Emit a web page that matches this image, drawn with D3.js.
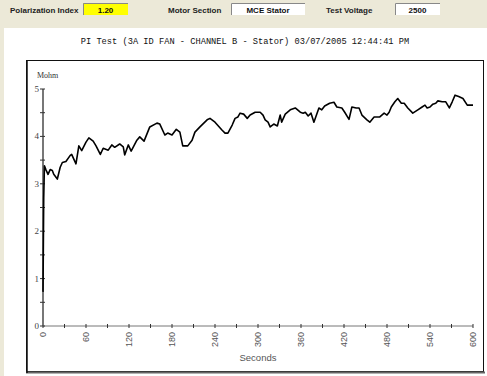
<!DOCTYPE html>
<html><head><meta charset="utf-8">
<script src="https://cdn.jsdelivr.net/npm/d3@7"></script>
<style>html,body{margin:0;padding:0;background:#ECE9D8;}svg{display:block;}</style>
</head><body>
<svg id="c" width="487" height="376"></svg>
<script>
const seconds = [0,1,2,4,7,10,13,15,20,24,27,32,38,40,46,50,54,60,64,70,74,80,84,91,96,100,107,112,114,119,123,131,135,141,149,159,163,170,174,180,186,191,195,202,208,212,219,229,233,240,250,254,258,264,268,272,275,280,285,289,296,303,307,310,314,317,322,327,331,333,338,345,352,359,363,366,370,374,378,385,389,393,400,406,410,417,421,427,431,437,441,445,452,456,462,466,470,476,480,483,486,491,495,500,504,509,516,523,529,533,536,540,544,548,551,557,562,567,571,575,580,586,592,596,600];
const mohm = [0.72,2.7,3.38,3.3,3.2,3.3,3.28,3.2,3.1,3.35,3.45,3.47,3.6,3.62,3.42,3.8,3.7,3.88,3.97,3.9,3.8,3.62,3.75,3.71,3.82,3.77,3.84,3.78,3.61,3.82,3.69,3.92,3.99,3.9,4.2,4.28,4.26,4.03,4.07,4.03,4.15,4.09,3.8,3.8,3.92,4.09,4.2,4.35,4.38,4.3,4.13,4.07,4.07,4.24,4.38,4.41,4.49,4.47,4.38,4.45,4.51,4.51,4.45,4.35,4.3,4.2,4.26,4.22,4.45,4.3,4.47,4.56,4.6,4.51,4.49,4.51,4.43,4.49,4.3,4.6,4.56,4.64,4.7,4.72,4.62,4.6,4.51,4.36,4.62,4.6,4.6,4.45,4.35,4.3,4.41,4.41,4.41,4.49,4.45,4.51,4.62,4.73,4.8,4.7,4.7,4.6,4.49,4.56,4.62,4.66,4.6,4.62,4.68,4.7,4.75,4.73,4.73,4.6,4.73,4.87,4.84,4.8,4.66,4.66,4.66];
const xTickLabels = [0,60,120,180,240,300,360,420,480,540,600];
const yTickLabels = [0,1,2,3,4,5];
const title = "PI Test (3A ID FAN - CHANNEL B - Stator) 03/07/2005 12:44:41 PM";
const fields = [
  {label:"Polarization Index", value:"1.20"},
  {label:"Motor Section", value:"MCE Stator"},
  {label:"Test Voltage", value:"2500"}
];

const svg = d3.select("#c");
// white panel
svg.append("rect").attr("x",4).attr("y",28).attr("width",483).attr("height",348).attr("fill","#fff");

// header fields
const fx = [{lx:10,bx:83,bw:45,fill:"#ffff00"},{lx:168,bx:231,bw:74,fill:"#fff"},{lx:326,bx:395,bw:45,fill:"#fff"}];
fields.forEach((f,i)=>{
  const p = fx[i];
  svg.append("text").attr("x",p.lx).attr("y",13).attr("font-family","Liberation Sans, Arial, sans-serif")
    .attr("font-size",8).attr("font-weight","bold").attr("fill","#222").text(f.label);
  svg.append("rect").attr("x",p.bx).attr("y",3).attr("width",p.bw).attr("height",12).attr("fill",p.fill);
  svg.append("path").attr("d",`M${p.bx+0.5},${15}V${3.5}H${p.bx+p.bw}`).attr("stroke","#888").attr("fill","none");
  svg.append("text").attr("x",p.bx+p.bw/2).attr("y",13).attr("text-anchor","middle")
    .attr("font-family","Liberation Sans, Arial, sans-serif").attr("font-size",8).attr("font-weight","bold")
    .attr("fill","#111").text(f.value);
});

// title
svg.append("text").attr("x",245).attr("y",44).attr("text-anchor","middle")
  .attr("font-family","Liberation Mono, Courier New, monospace").attr("font-size",8.7).attr("fill","#111").text(title);

// frame
svg.append("rect").attr("x",26.5).attr("y",60.5).attr("width",457).attr("height",311).attr("fill","none").attr("stroke","#111");
svg.append("line").attr("x1",26).attr("x2",485).attr("y1",372.5).attr("y2",372.5).attr("stroke","#666").attr("stroke-width",2);
svg.append("line").attr("x1",27).attr("x2",27).attr("y1",60).attr("y2",373).attr("stroke","#111").attr("stroke-width",1.5);

const x = d3.scaleLinear().domain([0,600]).range([43,473]);
const y = d3.scaleLinear().domain([0,5]).range([326,89]);

// x axis
svg.append("line").attr("x1",x(0)).attr("x2",x(600)).attr("y1",y(0)).attr("y2",y(0)).attr("stroke","#777");
svg.append("g").selectAll("line").data(d3.range(0,601,30)).join("line")
  .attr("x1",d=>x(d)).attr("x2",d=>x(d)).attr("y1",y(0)-2).attr("y2",y(0)+2).attr("stroke","#333");
svg.append("g").selectAll("text").data(xTickLabels).join("text")
  .attr("transform",d=>`translate(${x(d)+3},${y(0)+6}) rotate(-90)`).attr("text-anchor","end")
  .attr("font-family","Liberation Sans, Arial, sans-serif").attr("font-size",9).attr("fill","#555").text(d=>d);
svg.append("text").attr("x",258).attr("y",361).attr("text-anchor","middle")
  .attr("font-family","Liberation Sans, Arial, sans-serif").attr("font-size",9.5).attr("fill","#555").text("Seconds");

// y axis
svg.append("line").attr("x1",x(0)).attr("x2",x(0)).attr("y1",y(0)).attr("y2",y(5)).attr("stroke","#777").attr("stroke-width",2);
svg.append("g").selectAll("line").data(d3.range(0,5.01,0.5)).join("line")
  .attr("x1",x(0)-3).attr("x2",x(0)+2).attr("y1",d=>y(d)).attr("y2",d=>y(d)).attr("stroke","#333");
svg.append("g").selectAll("text").data(yTickLabels).join("text")
  .attr("x",x(0)-4).attr("y",d=>y(d)+3).attr("text-anchor","end")
  .attr("font-family","Liberation Serif, serif").attr("font-size",9).attr("fill","#444").text(d=>d);
svg.append("text").attr("x",37).attr("y",78).attr("font-family","Liberation Serif, serif")
  .attr("font-size",8).attr("fill","#333").text("Mohm");

// data line
const line = d3.line().x((d,i)=>x(seconds[i])).y(d=>y(d));
svg.append("path").datum(mohm).attr("d",line).attr("fill","none").attr("stroke","#000").attr("stroke-width",1.6).attr("stroke-linejoin","round");
</script>
</body></html>
